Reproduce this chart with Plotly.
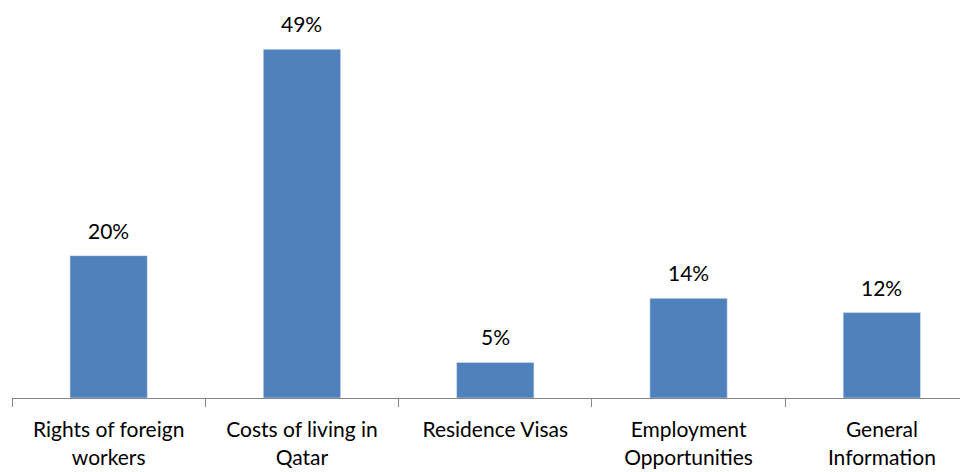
import plotly.graph_objects as go

categories = ['Rights of foreign<br>workers', 'Costs of living in<br>Qatar', 'Residence Visas',
              'Employment<br>Opportunities', 'General<br>Information']
values = [20, 49, 5, 14, 12]

fig = go.Figure(go.Bar(
    x=categories, y=values,
    marker_color='#4F81BD', width=0.40,
    hoverinfo='skip',
))

for c, v in zip(categories, values):
    fig.add_annotation(x=c, y=v, text=f'{v}%', showarrow=False, yanchor='bottom',
                       yshift=11, font=dict(size=21, color='#000000'))

# page body has an 8px margin, so the figure is offset by 8px
fig.update_layout(
    width=968, height=472,
    margin=dict(l=4, r=0, t=0, b=82),
    plot_bgcolor='white', paper_bgcolor='white',
    font=dict(family='Lato, Liberation Sans, Arial', size=21, color='#000000'),
    showlegend=False,
    xaxis=dict(
        range=[-0.5, 4.487], tickson='boundaries', ticks='outside', ticklen=8,
        tickcolor='#868686', showline=True, linecolor='#868686', linewidth=1,
        showgrid=False, tickfont=dict(size=21), automargin=False,
        ticklabelstandoff=13,
    ),
    yaxis=dict(range=[0, 54.8], visible=False, showgrid=False, automargin=False),
)

fig.write_html('out.html')
